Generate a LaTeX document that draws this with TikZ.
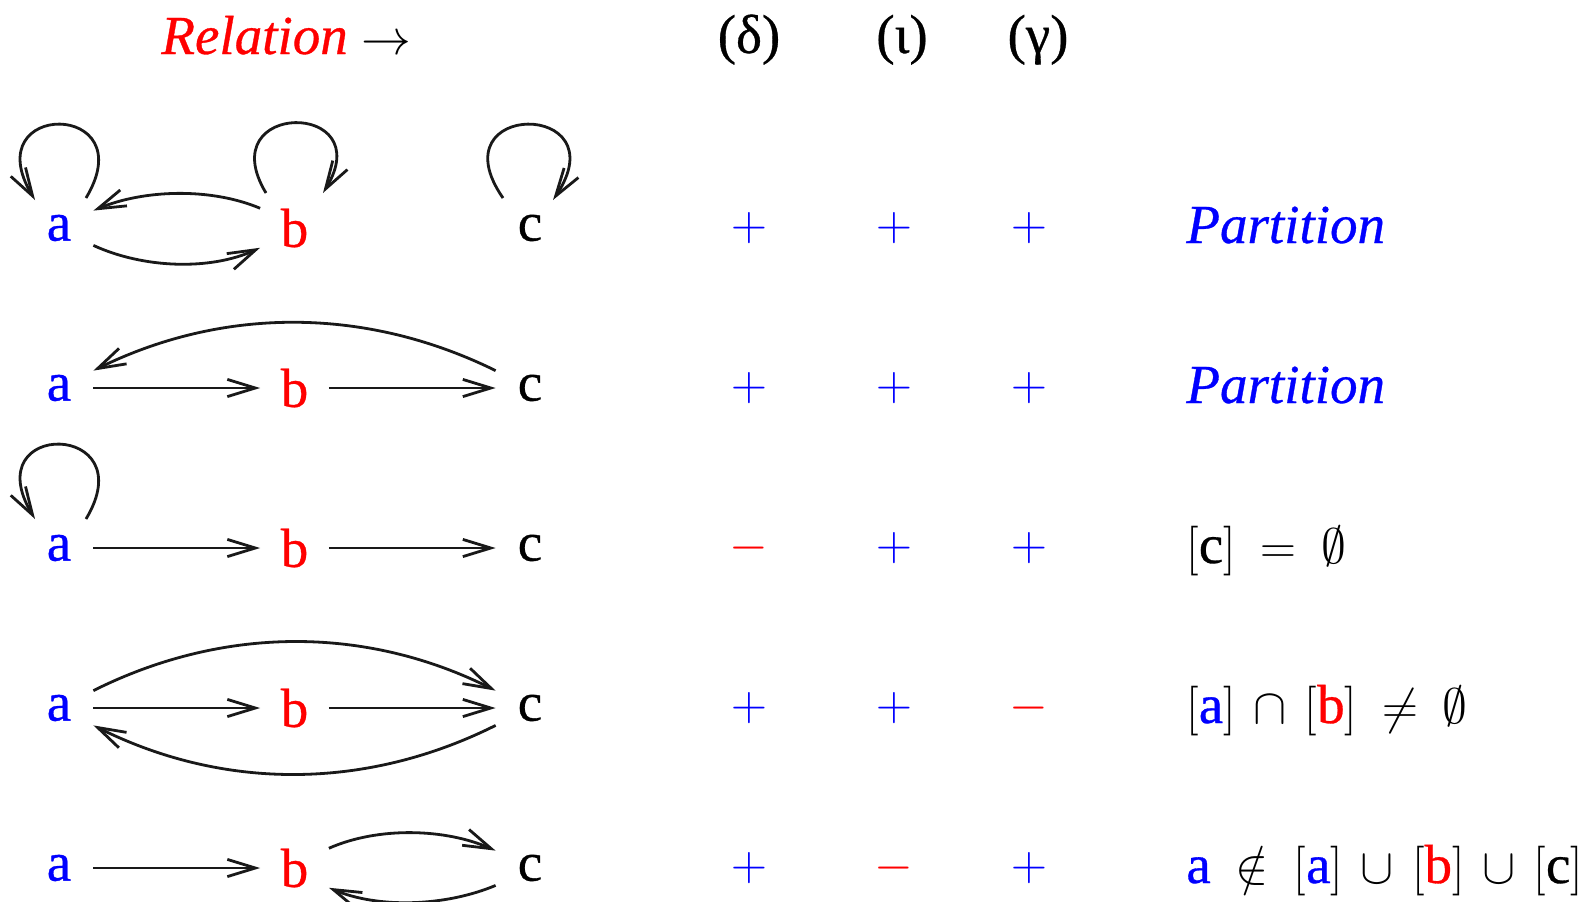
\documentclass[tikz,border=0pt]{standalone}
\usepackage[no-math]{fontspec}
\setmainfont{Liberation Serif}[FakeBold=0.6]
\usetikzlibrary{arrows.meta}
\begin{document}
\begin{tikzpicture}[x=0.5pt,y=-0.5pt,
  every node/.style={font=\fontsize{27.5}{33}\selectfont},
  vert/.style={rectangle, inner sep=0pt, minimum width=34pt, minimum height=17pt},
  rel/.style={line width=1.4pt, draw=black!90, -{Straight Barb[length=14pt,width=8.6pt]}},
  lbl/.style={anchor=base west, inner sep=0pt},
  fml/.style={lbl, execute at begin node={\medmuskip=6.5mu\thickmuskip=9mu}},
  sgn/.style={inner sep=0pt},
  hdr/.style={anchor=base, inner sep=0pt}
]
\useasboundingbox (0,0) rectangle (1585,901);

% header
\node[lbl] (relname) at (161,54) {\textcolor{red}{\textit{Relation}} $\rightarrow$};
\node[hdr] (hd) at (749,53) {(δ)};
\node[hdr] (hi) at (902,53) {(ι)};
\node[hdr] (hg) at (1038,53) {(γ)};

% vertices
\foreach \r/\y in {1/228,2/388,3/548,4/708,5/868}{
  \node[vert,text=blue] (a\r) at (59,\y) {a};
  \node[vert,text=red] (b\r) at (294.5,\y) {b};
  \node[vert] (c\r) at (530,\y) {c};
}

% row 1
\draw[rel] (b1.north west) .. controls +(-50,-21) and +(50,-21) .. (a1.north east);
\draw[rel] (a1.south east) .. controls +(50,23) and +(-50,23) .. (b1.south west);
\draw[rel] ([shift={(27,-30)}]a1.center) .. controls +(59,-98) and +(-60,-100) .. ([shift={(-24,-28)}]a1.center);
\draw[rel] ([shift={(-28.5,-35)}]b1.center) .. controls +(-56,-93) and +(57,-93) .. ([shift={(28.5,-35)}]b1.center);
\draw[rel] ([shift={(-27,-30)}]c1.center) .. controls +(-68,-98) and +(67,-100) .. ([shift={(23,-28)}]c1.center);

% row 2
\draw[rel] (a2.east) -- (b2.west);
\draw[rel] (b2.east) -- (c2.west);
\draw[rel] (c2.north west) .. controls +(-130,-64) and +(130,-64) .. (a2.north east);

% row 3
\draw[rel] ([shift={(27,-29)}]a3.center) .. controls +(59,-98) and +(-60,-100) .. ([shift={(-24,-29)}]a3.center);
\draw[rel] (a3.east) -- (b3.west);
\draw[rel] (b3.east) -- (c3.west);

% row 4
\draw[rel] (a4.east) -- (b4.west);
\draw[rel] (b4.east) -- (c4.west);
\draw[rel] (a4.north east) .. controls +(130,-65) and +(-130,-65) .. (c4.north west);
\draw[rel] (c4.south west) .. controls +(-130,65) and +(130,65) .. (a4.south east);

% row 5
\draw[rel] (a5.east) -- (b5.west);
\draw[rel] (b5.north east) .. controls +(50,-22) and +(-50,-22) .. (c5.north west);
\draw[rel] (c5.south west) .. controls +(-50,21) and +(50,21) .. (b5.south east);

% signs
\node[sgn,text=blue] (d1) at (749,228) {$+$};
\node[sgn,text=blue] (i1) at (894,228) {$+$};
\node[sgn,text=blue] (g1) at (1029,228) {$+$};
\node[sgn,text=blue] (d2) at (749,388) {$+$};
\node[sgn,text=blue] (i2) at (894,388) {$+$};
\node[sgn,text=blue] (g2) at (1029,388) {$+$};
\node[sgn,text=red]  (d3) at (749,548) {$-$};
\node[sgn,text=blue] (i3) at (894,548) {$+$};
\node[sgn,text=blue] (g3) at (1029,548) {$+$};
\node[sgn,text=blue] (d4) at (749,708) {$+$};
\node[sgn,text=blue] (i4) at (894,708) {$+$};
\node[sgn,text=red]  (g4) at (1029,708) {$-$};
\node[sgn,text=blue] (d5) at (749,868) {$+$};
\node[sgn,text=red]  (i5) at (894,868) {$-$};
\node[sgn,text=blue] (g5) at (1029,868) {$+$};

% verdicts
\node[lbl,text=blue] (p1) at (1186,243) {\textit{Partition}};
\node[lbl,text=blue] (p2) at (1186,403) {\textit{Partition}};
\node[fml] (e3) at (1186,563) {$[\textrm{c}] = \emptyset$};
\node[fml] (e4) at (1186,723) {$[\textcolor{blue}{\textrm{a}}] \cap [\textcolor{red}{\textrm{b}}] \neq \emptyset$};
\node[fml] (e5) at (1186,883) {$\textcolor{blue}{\textrm{a}} \notin [\textcolor{blue}{\textrm{a}}] \cup [\textcolor{red}{\textrm{b}}] \cup [\textrm{c}]$};
\end{tikzpicture}
\end{document}
